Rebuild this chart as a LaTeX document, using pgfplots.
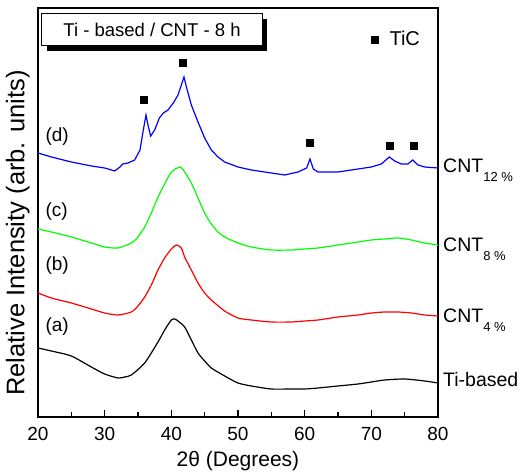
\documentclass[border=0pt]{standalone}
\usepackage{pgfplots}
\pgfplotsset{compat=1.18}
\usepackage{fontspec}
\setmainfont{Liberation Sans}
\usetikzlibrary{shadows}

\pgfplotstableread{
x y
20 69
22 66
25 61
28 50
30 43
32 39
33 40
34 42
36 54
38 75
39 87
40 97
40.5 98
41 96
42 90
43 77
44 64
45 56
46 49
48 41
50 34
52 31
55 28
58 28
60 28
62 29
65 31
68 33
70 35
72 37
75 38
78 36
80 34
}\tibased

\pgfplotstableread{
x y
20 124
22 119
25 114
28 108
30 104
32 102
34 105
35 111
36 120
37 132
38 147
39 159
40 168
40.8 172
41.5 169
42 160
43 147
44 134
45 124
46 117
48 106
50 99
52 97
55 95
58 95
60 96
62 97
65 100
68 102
70 104
72 105
74 105
76 104
78 102
80 101
}\cntfour

\pgfplotstableread{
x y
20 188
22 185
25 180
28 174
30 170
32 169
34 174
35 180
36 190
37 204
38 220
39 233
40 245
41.3 250
42 245
43 234
44 219
45 204
46 193
47 185
48 180
50 174
52 170
55 167
58 167
60 168
62 169
65 172
68 175
70 177
72 178
74 179
76 177
78 174
80 172
}\cnteight

\pgfplotstableread{
x y
20 264
22 260
25 255
28 251
30 249
31.5 246
32.3 250
32.7 253
33.5 254
34.5 257
35.3 267
35.8 287
36.2 302
36.5 292
36.9 281
37.5 287
38.2 299
38.8 304
39.5 307
40.3 314
41 322
41.6 334
41.9 340
42.3 329
43 312
44 295
45 279
46 267
47 260
48 255
50 250
52 247
55 244
57 242
59 245
60.3 249
60.8 258
61.3 248
62 245
65 245
68 248
70 250
71.5 253
72.7 260
73.5 256
74.5 253
75.5 253
76.2 257
77 252
78 250
80 249
}\cnttwelve

\pgfplotstableread{
x y
35.9 317
41.7 354
60.7 274
72.7 271
76.4 271
70.5 377
}\ticmarks

\begin{document}
\begin{tikzpicture}[x=1pt,y=1pt]
\begin{axis}[
    name=ax,
    at={(0,0)}, anchor=south west,
    width=400pt, height=409pt,
    scale only axis,
    xmin=20, xmax=80,
    ymin=0, ymax=409,
    xtick={20,30,...,80},
    minor xtick={25,35,...,75},
    ytick=\empty,
    xtick pos=bottom,
    tick align=inside,
    major tick length=7pt,
    minor tick length=5pt,
    every tick/.style={black, line width=1.2pt},
    axis line style={line width=1.5pt},
    /pgf/number format/assume math mode=true,
    tick label style={font=\fontsize{19}{22}\selectfont},
    xticklabel style={yshift=-7pt},
    xlabel={2θ (Degrees)},
    ylabel={Relative Intensity (arb. units)},
    xlabel style={font=\fontsize{21}{24}\selectfont, at={(axis description cs:0.5,0)}, anchor=north, yshift=-31pt},
    ylabel style={font=\fontsize{25.5}{28}\selectfont, at={(axis description cs:-0.012,0.45)}, anchor=south},
    clip=false,
]
\addplot[black, line width=1.2pt, smooth, tension=0.4] table {\tibased};
\addplot[red, line width=1.2pt, smooth, tension=0.4] table {\cntfour};
\addplot[green, line width=1.2pt, smooth, tension=0.4] table {\cnteight};
\addplot[blue, line width=1.2pt] table {\cnttwelve};
\addplot[only marks, mark=square*, mark size=3.5pt, black] table {\ticmarks};

\node[anchor=base west, font=\fontsize{20}{22}\selectfont] at (axis cs:72.2,371) {TiC};
\node[draw, fill=white, line width=1pt, minimum width=220pt, minimum height=32pt,
      drop shadow={shadow xshift=5pt, shadow yshift=-5pt, opacity=1, fill=black},
      font=\fontsize{18.5}{20}\selectfont] at (axis cs:37.1,387) {Ti - based / CNT - 8 h};

\node[anchor=base west, font=\fontsize{19}{22}\selectfont] at (axis cs:20.6,275) {(d)};
\node[anchor=base west, font=\fontsize{19}{22}\selectfont] at (axis cs:20.6,200) {(c)};
\node[anchor=base west, font=\fontsize{19}{22}\selectfont] at (axis cs:20.6,146) {(b)};
\node[anchor=base west, font=\fontsize{19}{22}\selectfont] at (axis cs:20.6,85) {(a)};

\node[anchor=base west, inner sep=0pt, font=\fontsize{19.5}{22}\selectfont] at (axis cs:80.75,244) {CNT\raisebox{-9pt}{\fontsize{13}{14}\selectfont 12 \%}};
\node[anchor=base west, inner sep=0pt, font=\fontsize{19.5}{22}\selectfont] at (axis cs:80.75,165) {CNT\raisebox{-9pt}{\fontsize{13}{14}\selectfont 8 \%}};
\node[anchor=base west, inner sep=0pt, font=\fontsize{19.5}{22}\selectfont] at (axis cs:80.75,94) {CNT\raisebox{-9pt}{\fontsize{13}{14}\selectfont 4 \%}};
\node[anchor=base west, inner sep=0pt, font=\fontsize{19.5}{22}\selectfont] at (axis cs:80.75,30) {Ti-based};
\end{axis}
\pgfresetboundingbox
\path[use as bounding box] (-38,-56) rectangle (486,417);
\end{tikzpicture}
\end{document}
